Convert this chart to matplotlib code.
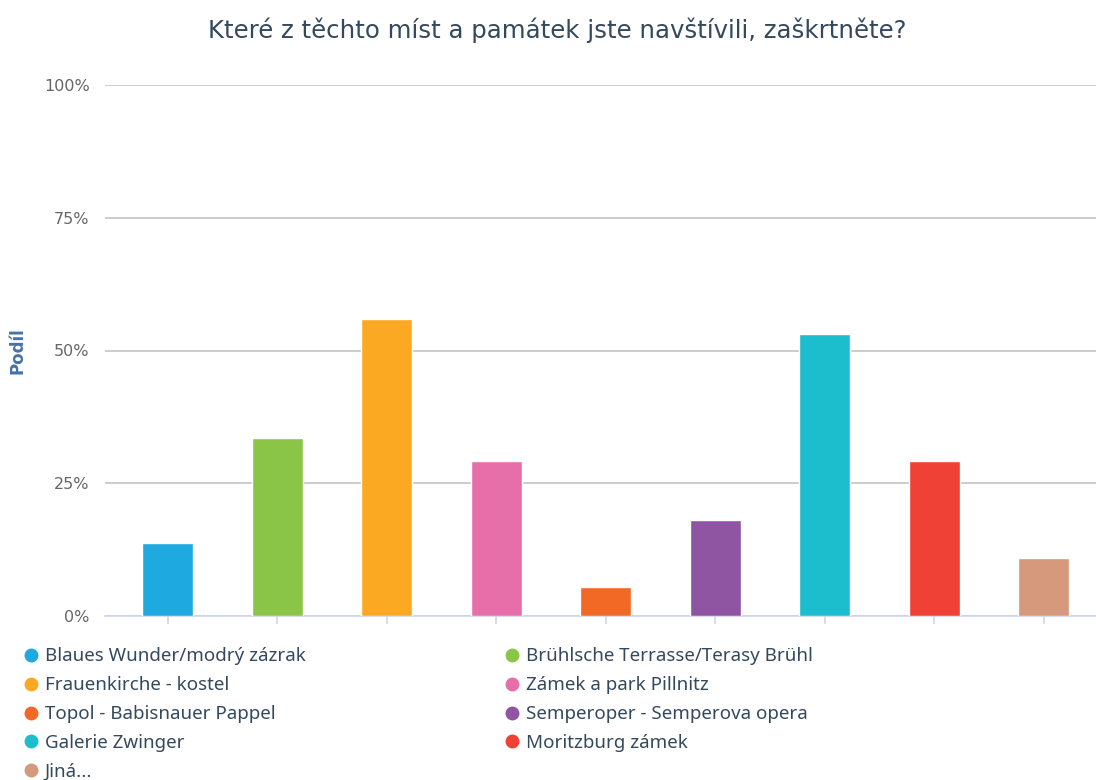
import matplotlib.pyplot as plt
from matplotlib.lines import Line2D
from matplotlib.ticker import FuncFormatter

places = ["Blaues Wunder/modrý zázrak", "Brühlsche Terrasse/Terasy Brühl",
          "Frauenkirche - kostel", "Zámek a park Pillnitz",
          "Topol - Babisnauer Pappel", "Semperoper - Semperova opera",
          "Galerie Zwinger", "Moritzburg zámek", "Jiná..."]
share = [13.7, 33.6, 55.9, 29.2, 5.5, 18.1, 53.1, 29.2, 11.0]
colors = ["#1fa9e1", "#8bc548", "#fba823", "#e76fa9", "#f26825",
          "#8f55a2", "#1cbecd", "#ef4136", "#d6997b"]

text_col = "#34495e"

fig = plt.figure(figsize=(10.96, 7.80), dpi=100)
ax = fig.add_axes([105/1096, 1-616/780, 992/1096, (616-85)/780])

xs = list(range(len(share)))
ax.bar(xs, share, width=0.466, color=colors, edgecolor="white", linewidth=1, zorder=3)

ax.set_xlim(-0.573, 8.487)
ax.set_ylim(0, 100)
ax.set_yticks([0, 25, 50, 75, 100])
ax.yaxis.set_major_formatter(FuncFormatter(lambda v, p: "%d%%" % v))
ax.set_xticks(xs)
ax.set_xticklabels([])
ax.grid(axis="y", color="#c8c8c8", linewidth=1.3, zorder=0)
for s in ["top", "right", "left"]:
    ax.spines[s].set_visible(False)
ax.spines["bottom"].set_color("#ccd6eb")
ax.spines["bottom"].set_linewidth(1.2)
ax.tick_params(axis="y", length=0, pad=11, labelsize=11.5, labelcolor="#666666")
ax.tick_params(axis="x", length=6, color="#ccd6eb", width=1.2)

fig.text(18/1096, 1-351/780, "Podíl", rotation=90, ha="center", va="center",
         color="#4572a7", fontsize=12, fontweight="bold")
fig.text(557/1096, 1-30/780, "Které z těchto míst a památek jste navštívili, zaškrtněte?",
         ha="center", va="center", color=text_col, fontsize=17.6)

def handles(idx):
    return [Line2D([], [], marker="o", linestyle="", markersize=9,
                   markerfacecolor=colors[i], markeredgecolor=colors[i]) for i in idx]

left = [0, 2, 4, 6, 8]
right = [1, 3, 5, 7]
for idx, x0 in [(left, 10), (right, 491)]:
    leg = fig.legend(handles(idx), [places[i] for i in idx], loc="upper left",
                     bbox_to_anchor=(x0/1096, 1-638/780), frameon=False,
                     labelspacing=0.58, handletextpad=0.15,
                     handlelength=1.2, borderpad=0, prop={"family": "Noto Sans", "size": 13.5})
    for t in leg.get_texts():
        t.set_color(text_col)

fig.savefig("out.png", dpi=100, facecolor="white")
